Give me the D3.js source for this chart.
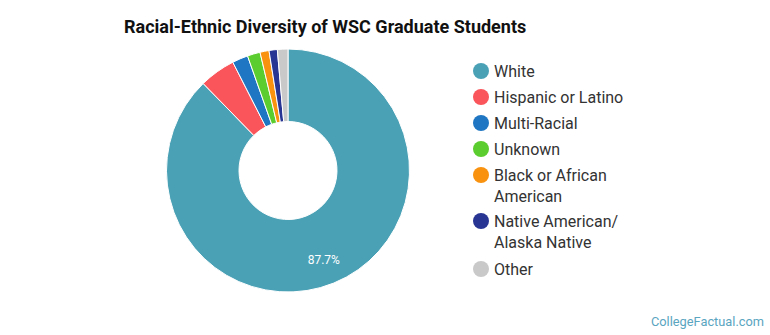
<!DOCTYPE html>
<html>
<head>
<meta charset="utf-8">
<script src="https://cdn.jsdelivr.net/npm/d3@7"></script>
<style>
  body { margin: 0; background: #fff; }
  svg { font-family: Roboto, "Open Sans", sans-serif; }
  .legend-text { font-size: 16px; fill: #333; }
</style>
</head>
<body>
<svg width="770" height="335"></svg>
<script>
// data
const categories = ["White", "Hispanic or Latino", "Multi-Racial", "Unknown",
                    "Black or African American", "Native American/ Alaska Native", "Other"];
const values = [87.7, 4.8, 2.1, 1.7, 1.2, 1.1, 1.4];
const colors = ["#4aa1b6", "#f9555a", "#1f76c2", "#5ccd2f", "#f8920f", "#283593", "#c9c9c9"];
// legend lines (wrapped like the original)
const legendLines = [["White"], ["Hispanic or Latino"], ["Multi-Racial"], ["Unknown"],
                     ["Black or African", "American"], ["Native American/", "Alaska Native"], ["Other"]];

const svg = d3.select("svg");

svg.append("text")
    .attr("x", 124)
    .attr("y", 33)
    .attr("font-size", 18)
    .attr("font-weight", "bold")
    .attr("fill", "#111")
    .text("Racial-Ethnic Diversity of WSC Graduate Students");

const cx = 288, cy = 170.5, outerR = 121.5, innerR = 49;

const pie = d3.pie().sort(null).value(d => d.v);
const arc = d3.arc().innerRadius(innerR).outerRadius(outerR);
const data = categories.map((c, i) => ({ c: c, v: values[i], color: colors[i] }));
const arcs = pie(data);

const g = svg.append("g").attr("transform", `translate(${cx},${cy})`);
g.selectAll("path")
    .data(arcs)
    .join("path")
    .attr("d", arc)
    .attr("fill", d => d.data.color)
    .attr("stroke", "#fff")
    .attr("stroke-width", 1);

// label only the big slice
const labelArc = d3.arc().innerRadius(95).outerRadius(95);
g.selectAll("text.pct")
    .data(arcs.filter(d => d.data.v > 10))
    .join("text")
    .attr("class", "pct")
    .attr("x", d => labelArc.centroid(d)[0])
    .attr("y", d => labelArc.centroid(d)[1] + 1)
    .attr("text-anchor", "middle")
    .attr("dy", "0.35em")
    .attr("font-size", 12)
    .attr("fill", "#fff")
    .text(d => d.data.v.toFixed(1) + "%");

// legend
const legendY = [71, 97, 123, 149, 175, 221, 269];
const lg = svg.append("g");
legendLines.forEach((lines, i) => {
    lg.append("circle")
        .attr("cx", 481)
        .attr("cy", legendY[i])
        .attr("r", 8)
        .attr("fill", colors[i]);
    const t = lg.append("text")
        .attr("class", "legend-text")
        .attr("x", 494)
        .attr("y", legendY[i]);
    lines.forEach((ln, j) => {
        t.append("tspan")
            .attr("x", 494)
            .attr("dy", j === 0 ? "0.38em" : 21)
            .text(ln);
    });
});

svg.append("text")
    .attr("x", 764)
    .attr("y", 326)
    .attr("text-anchor", "end")
    .attr("font-size", 12.8)
    .attr("fill", "#5aa5bf")
    .text("CollegeFactual.com");
</script>
</body>
</html>
